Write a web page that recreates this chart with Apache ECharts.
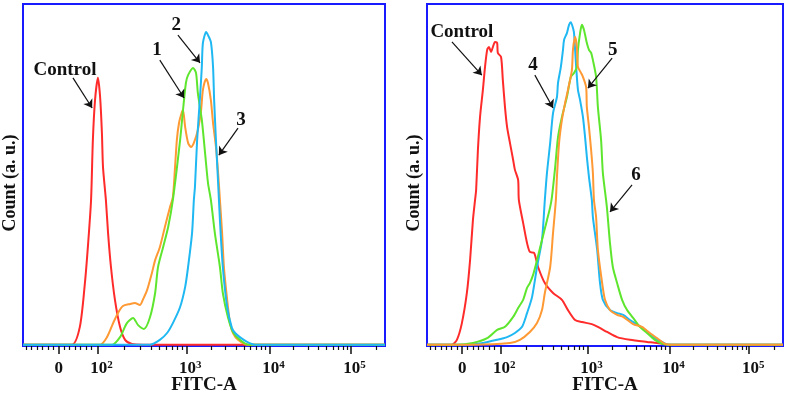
<!DOCTYPE html>
<html>
<head>
<meta charset="utf-8">
<script src="https://cdn.jsdelivr.net/npm/echarts@6/dist/echarts.min.js"></script>
<style>
  html, body { margin: 0; padding: 0; background: #fff; }
  #chart { width: 787px; height: 395px; }
</style>
</head>
<body>
<div id="chart"></div>
<script>
// x is in display channels (0..1000 across the plot), y in counts (0..100 = plot top)
var tickValues = [99, 206, 451, 681, 905];
var tickLabels = ['0', '10|2', '10|3', '10|4', '10|5'];

var leftControl = [[0,0.4],[135,0.4],[157,5.6],[171,18.4],[180,30.1],[188,42.7],[193,60.2],[199,71.9],[207,78.4],[213,72.8],[218,62.3],[221,52.3],[229,42.7],[235,33.0],[243,23.1],[254,13.5],[268,5.6],[282,1.8],[301,0.6],[331,0.4],[1000,0.4]];
var left3 = [[0,0.4],[213,0.4],[232,2.6],[249,6.7],[262,9.6],[276,11.7],[296,12.3],[309,12.6],[323,12.0],[331,13.5],[343,16.4],[356,21.3],[365,25.1],[378,28.9],[392,34.8],[406,40.6],[414,43.5],[420,52.3],[425,60.2],[431,65.2],[439,68.4],[442,69.0],[448,64.0],[456,59.4],[464,58.2],[472,59.4],[483,63.2],[492,69.0],[497,74.9],[506,78.1],[511,76.9],[519,71.9],[525,65.2],[533,58.2],[539,50.6],[544,42.7],[550,33.0],[555,23.1],[564,13.5],[572,6.7],[580,3.8],[594,1.8],[619,0.4],[1000,0.4]];
var left1 = [[0,0.4],[246,0.4],[268,2.6],[287,6.7],[304,8.2],[318,6.1],[334,5.0],[351,8.5],[365,15.5],[373,23.1],[387,28.9],[401,34.8],[414,42.7],[434,60.2],[442,69.0],[450,76.9],[456,79.2],[470,81.3],[478,79.8],[483,74.0],[494,66.1],[503,56.4],[511,47.7],[519,42.7],[530,33.0],[544,23.1],[552,15.5],[566,8.5],[580,4.1],[599,1.8],[622,0.4],[1000,0.4]];
var left2 = [[0,0.4],[351,0.4],[378,1.8],[398,3.8],[414,6.7],[434,11.4],[448,17.3],[456,23.1],[467,33.0],[472,42.7],[475,46.5],[481,60.2],[489,72.8],[494,81.6],[497,88.6],[506,91.8],[511,90.9],[519,88.9],[525,81.6],[528,71.9],[533,60.2],[539,47.7],[544,36.8],[552,23.1],[564,11.4],[577,5.3],[586,3.8],[599,2.6],[619,1.2],[641,0.4],[1000,0.4]];

var rightControl = [[0,0.4],[70,0.4],[84,1.8],[98,6.7],[112,15.5],[121,25.1],[129,36.8],[135,42.7],[138,45.6],[143,57.3],[149,67.0],[157,74.9],[163,81.6],[169,86.6],[174,87.4],[180,86.0],[185,87.4],[191,88.9],[197,88.6],[199,85.7],[208,84.5],[213,77.8],[219,69.9],[225,64.0],[233,59.4],[242,54.4],[247,51.5],[256,48.5],[258,42.7],[270,36.0],[281,30.1],[289,27.5],[301,27.2],[312,23.1],[331,18.4],[354,15.5],[379,13.5],[396,10.5],[416,7.6],[435,7.0],[463,6.4],[480,5.6],[506,4.1],[534,2.6],[570,1.8],[618,1.2],[646,0.9],[674,0.4],[1000,0.4]];
var right4 = [[0,0.4],[112,0.4],[157,0.9],[197,1.8],[225,2.6],[247,3.8],[267,5.6],[281,9.6],[295,14.3],[309,23.1],[323,31.0],[331,42.7],[337,50.6],[346,59.4],[354,68.1],[365,72.8],[368,76.9],[376,81.6],[382,86.6],[385,89.5],[393,91.5],[399,93.9],[404,94.7],[410,93.0],[413,91.5],[419,81.6],[424,74.9],[430,71.9],[438,67.0],[444,61.1],[449,55.3],[455,49.4],[463,42.7],[466,37.7],[478,28.1],[486,18.4],[494,13.5],[514,10.5],[534,9.6],[551,9.1],[570,7.6],[593,6.1],[612,4.7],[635,2.6],[660,1.2],[677,0.4],[1000,0.4]];
var right5 = [[0,0.4],[129,0.4],[233,0.9],[261,1.8],[289,4.1],[309,6.7],[323,10.5],[331,15.5],[346,23.1],[354,33.0],[362,42.7],[365,49.4],[371,59.4],[379,66.1],[388,71.1],[396,74.9],[407,80.7],[410,86.6],[416,90.4],[421,87.4],[424,81.6],[433,79.8],[438,78.7],[447,75.7],[449,69.9],[455,64.0],[461,57.3],[466,50.6],[469,42.7],[475,37.7],[480,28.1],[492,18.4],[500,13.5],[514,10.5],[534,9.1],[551,8.5],[579,6.4],[604,5.6],[626,3.8],[646,2.3],[669,0.6],[683,0.4],[1000,0.4]];
var right6 = [[0,0.4],[84,0.4],[129,0.9],[169,2.3],[197,4.7],[219,5.6],[242,8.5],[256,11.1],[270,13.5],[281,17.0],[289,18.4],[298,20.8],[309,25.1],[323,31.0],[337,36.8],[346,40.6],[351,43.6],[360,52.3],[368,61.1],[379,67.0],[393,72.8],[404,78.7],[413,79.8],[421,81.6],[424,86.6],[430,91.5],[435,93.9],[441,92.4],[449,88.6],[455,86.6],[461,85.7],[466,83.6],[475,78.7],[480,69.9],[489,60.2],[494,50.6],[503,42.7],[506,39.8],[514,30.1],[522,23.1],[534,18.4],[548,13.5],[562,10.5],[579,8.2],[598,5.6],[618,3.8],[640,1.8],[663,0.6],[683,0.4],[1000,0.4]];

// annotation: [text, textPos, arrowStart, arrowEnd]
var leftNotes = [
  ['Control', [116, 80.7], [138, 78.4], [191, 69.6]],
  ['1', [370, 86.6], [378, 83.6], [445, 72.5]],
  ['2', [423, 93.9], [428, 90.9], [489, 82.8]],
  ['3', [602, 66.1], [594, 63.7], [541, 55.8]]
];
var rightNotes = [
  ['Control', [98, 91.8], [70, 88.9], [154, 79.2]],
  ['4', [298, 82.2], [303, 79.2], [354, 69.6]],
  ['5', [522, 86.6], [520, 84.2], [452, 75.4]],
  ['6', [587, 50.0], [576, 47.1], [514, 39.2]]
];

var FONT = '"Liberation Serif", "Times New Roman", serif';
var colors = { control: '#ff2b2b', orange: '#ff9933', green: '#5ee62e', blue: '#1fb8f2' };

// biexponential-ish display mapping, used only for the minor tick marks
function chan(v) {
  if (v >= 1000) return 451 + 228 * (Math.log10(v) - 3);
  if (v >= 100) return 206 + 245 * (Math.log10(v) - 2);
  return v;
}
var minorTicks = [];
for (var k = -6; k <= 6; k++) {
  if (k !== 0) minorTicks.push(99 + 15 * k);
}
[100, 1000, 10000, 100000].forEach(function (dec) {
  for (var m = 2; m <= 9; m++) {
    var c = chan(dec * m);
    if (c < 1000) minorTicks.push(Math.round(c * 10) / 10);
  }
});

function labelFmt(val) {
  var i = tickValues.indexOf(val);
  if (i < 0) return '';
  var t = tickLabels[i].split('|');
  if (t.length === 1) return '{z|' + t[0] + '}';
  return '{b|' + t[0] + '}{s|' + t[1] + '}';
}

function xAxes(gridIndex) {
  return [{
    gridIndex: gridIndex, type: 'value', min: 0, max: 1000, position: 'bottom',
    name: 'FITC-A', nameLocation: 'middle', nameGap: 30, nameMoveOverlap: false,
    nameTextStyle: { fontFamily: FONT, fontWeight: 'bold', fontSize: 19, color: '#111' },
    axisLine: { show: false, onZero: false },
    splitLine: { show: false },
    axisTick: { show: true, inside: false, length: 8, customValues: tickValues, lineStyle: { color: '#111', width: 1.5 } },
    axisLabel: {
      show: true, margin: 14, customValues: tickValues, formatter: labelFmt,
      rich: {
        z: { fontFamily: FONT, fontWeight: 'bold', fontSize: 17, color: '#111' },
        b: { fontFamily: FONT, fontWeight: 'bold', fontSize: 17, color: '#111', padding: [0, 0, 0, 8] },
        s: { fontFamily: FONT, fontWeight: 'bold', fontSize: 11, color: '#111', verticalAlign: 'top' }
      }
    }
  }, {
    gridIndex: gridIndex, type: 'value', min: 0, max: 1000, position: 'bottom',
    axisLine: { show: false, onZero: false },
    splitLine: { show: false },
    axisLabel: { show: false },
    axisTick: { show: true, inside: false, length: 4, customValues: minorTicks, lineStyle: { color: '#111', width: 1.2 } }
  }];
}

function yAxis(gridIndex) {
  return {
    gridIndex: gridIndex, type: 'value', min: 0, max: 100,
    name: 'Count (a. u.)', nameLocation: 'middle', nameGap: 4, nameMoveOverlap: false,
    nameTextStyle: { fontFamily: FONT, fontWeight: 'bold', fontSize: 18, color: '#111', padding: [0, 16, 0, 0] },
    axisLine: { show: false }, axisTick: { show: false },
    axisLabel: { show: false }, splitLine: { show: false }
  };
}

function notes(list) {
  return {
    markLine: {
      silent: true, animation: false,
      symbol: ['none', 'arrow'], symbolSize: 8,
      lineStyle: { color: '#111', width: 1.2, type: 'solid' },
      label: { show: false },
      data: list.map(function (n) { return [{ coord: n[2] }, { coord: n[3] }]; })
    },
    markPoint: {
      silent: true, animation: false, symbol: 'circle', symbolSize: 0,
      label: { show: true, position: 'inside', fontFamily: FONT, fontWeight: 'bold', fontSize: 19, color: '#111' },
      data: list.map(function (n) { return { coord: n[1], value: n[0], label: { formatter: n[0] } }; })
    }
  };
}

function curve(name, data, color, xi, yi, extra) {
  var s = {
    name: name, type: 'line', data: data, xAxisIndex: xi, yAxisIndex: yi,
    showSymbol: false, smooth: 0.25, animation: false,
    lineStyle: { color: color, width: 2 }
  };
  if (extra) Object.assign(s, extra);
  return s;
}

var chart = echarts.init(document.getElementById('chart'));
chart.setOption({
  backgroundColor: '#fff',
  grid: [
    { left: 23, top: 4, width: 362, height: 342, outerBoundsMode: 'none', containLabel: false, show: true, borderColor: '#1a1aff', borderWidth: 2, backgroundColor: 'transparent' },
    { left: 427, top: 4, width: 356, height: 342, outerBoundsMode: 'none', containLabel: false, show: true, borderColor: '#1a1aff', borderWidth: 2, backgroundColor: 'transparent' }
  ],
  xAxis: xAxes(0).concat(xAxes(1)),
  yAxis: [yAxis(0), yAxis(1)],
  series: [
    curve('Control', leftControl, colors.control, 0, 0, notes(leftNotes)),
    curve('3', left3, colors.orange, 0, 0),
    curve('1', left1, colors.green, 0, 0),
    curve('2', left2, colors.blue, 0, 0),
    curve('Control', rightControl, colors.control, 2, 1, notes(rightNotes)),
    curve('4', right4, colors.blue, 2, 1),
    curve('6', right6, colors.green, 2, 1),
    curve('5', right5, colors.orange, 2, 1)
  ]
});
</script>
</body>
</html>
